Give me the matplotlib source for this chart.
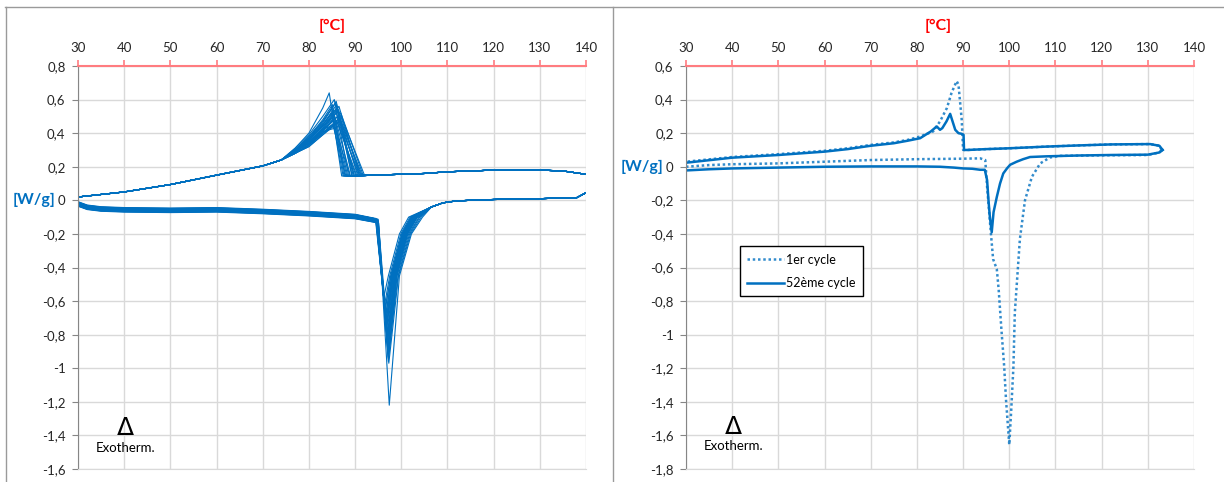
import matplotlib
matplotlib.use("Agg")
import matplotlib.pyplot as plt
from matplotlib.lines import Line2D
from matplotlib.ticker import FuncFormatter, MultipleLocator
from matplotlib.transforms import blended_transform_factory

plt.rcParams['font.family'] = ['Lato', 'DejaVu Sans']

BLUE = '#0070C0'
RED_AXIS = '#FF7C80'

# ---------------- left panel: 52 cycles (shown as a family of curves) ----------------
# heating branch (endothermic melting peak)
heat_base_T = [30, 32, 35, 40, 50, 60, 70, 80, 90]
heat_base_V = [-0.02, -0.04, -0.05, -0.055, -0.058, -0.055, -0.065, -0.078, -0.095]
heat_shift = [0.010, 0.006, 0.002, -0.002, -0.006, -0.010, -0.013, 0.008, 0.004, 0.000,
              -0.004, -0.008, -0.012, 0.012, 0.003, -0.005, -0.011, 0.007, -0.015, 0.001,
              0.009, -0.003, -0.009, 0.005, -0.001, -0.007]
melt_onset_T = [94.4, 94.5, 94.5, 94.6, 94.6, 94.7, 94.7, 94.8, 94.8, 94.8,
                94.9, 94.9, 95.0, 94.5, 94.7, 94.8, 94.9, 95.0, 95.1, 95.0,
                94.6, 94.7, 94.9, 94.6, 94.8, 95.0]
melt_peak_T = [96.2, 96.4, 96.5, 96.6, 96.7, 96.8, 96.9, 97.0, 97.0, 97.1,
               97.1, 97.2, 97.2, 96.6, 96.9, 97.0, 97.1, 97.3, 97.4, 97.3,
               96.5, 96.8, 97.0, 96.7, 97.0, 97.2]
melt_peak_V = [-0.58, -0.62, -0.66, -0.70, -0.73, -0.76, -0.79, -0.82, -0.85, -0.88,
               -0.91, -0.94, -0.96, -0.68, -0.75, -0.80, -0.87, -0.90, -1.22, -0.97,
               -0.64, -0.74, -0.84, -0.71, -0.83, -0.93]
melt_r45_T = [97.2, 97.5, 97.7, 97.9, 98.1, 98.2, 98.4, 98.5, 98.6, 98.7,
              98.8, 98.9, 99.0, 98.0, 98.3, 98.6, 98.9, 99.3, 99.6, 99.4,
              97.8, 98.2, 98.7, 98.1, 98.8, 99.1]
melt_r20_T = [99.6, 99.9, 100.1, 100.3, 100.5, 100.6, 100.8, 100.9, 101.0, 101.1,
              101.2, 101.3, 101.4, 100.4, 100.7, 101.0, 101.3, 101.8, 102.2, 102.0,
              100.2, 100.6, 101.1, 100.5, 101.2, 101.6]
melt_r10_T = [101.6, 101.9, 102.1, 102.3, 102.5, 102.6, 102.8, 102.9, 103.0, 103.1,
              103.2, 103.4, 103.5, 102.4, 102.7, 103.0, 103.4, 104.0, 104.6, 104.3,
              102.2, 102.6, 103.1, 102.5, 103.3, 103.8]
heat_tail_T = [106.5, 109, 112, 120, 130, 138, 140, 142]
heat_tail_V = [-0.04, -0.015, -0.003, 0.005, 0.01, 0.016, 0.045, 0.09]

# cooling branch (exothermic crystallisation peak)
cool_base_T = [30, 40, 50, 60, 70, 74]
cool_base_V = [0.02, 0.05, 0.094, 0.15, 0.205, 0.24]
cool_v77 = [0.31, 0.30, 0.30, 0.29, 0.31, 0.29, 0.30, 0.30, 0.28, 0.29,
            0.30, 0.28, 0.29, 0.28, 0.29, 0.30, 0.28, 0.29, 0.28, 0.28,
            0.30, 0.29, 0.29, 0.28, 0.29, 0.29]
cool_v80 = [0.40, 0.37, 0.38, 0.35, 0.39, 0.34, 0.37, 0.36, 0.33, 0.35,
            0.36, 0.33, 0.34, 0.33, 0.34, 0.37, 0.32, 0.35, 0.33, 0.32,
            0.38, 0.36, 0.36, 0.33, 0.35, 0.34]
cool_v83 = [0.55, 0.45, 0.48, 0.42, 0.50, 0.41, 0.47, 0.45, 0.40, 0.43,
            0.44, 0.40, 0.41, 0.40, 0.42, 0.46, 0.39, 0.42, 0.41, 0.39,
            0.47, 0.44, 0.45, 0.40, 0.43, 0.42]
cryst_peak_T = [84.4, 84.9, 85.1, 85.3, 85.5, 85.6, 85.8, 86.0, 86.1, 86.3,
                86.5, 86.7, 86.9, 87.0, 85.2, 85.9, 86.2, 86.4, 85.7, 86.8,
                85.0, 85.4, 86.0, 86.6, 85.8, 86.3]
cryst_peak_V = [0.64, 0.52, 0.57, 0.48, 0.60, 0.50, 0.58, 0.55, 0.47, 0.53,
                0.56, 0.49, 0.52, 0.50, 0.45, 0.59, 0.46, 0.54, 0.43, 0.48,
                0.55, 0.51, 0.57, 0.47, 0.53, 0.50]
cryst_end_T = [87.1, 87.4, 87.8, 88.2, 88.6, 89.0, 89.4, 89.8, 90.2, 90.6,
               91.0, 91.4, 91.8, 92.1, 88.0, 89.6, 90.4, 91.2, 88.9, 91.6,
               87.6, 88.4, 89.3, 91.0, 89.9, 90.8]
cool_tail_T = [93, 100, 105, 110, 120, 130, 135, 140, 142]
cool_tail_V = [0.15, 0.155, 0.16, 0.17, 0.18, 0.18, 0.175, 0.155, 0.13]

# ---------------- right panel: 1st and 52nd cycle ----------------
c1_heat_T = [30, 35, 40, 50, 60, 70, 80, 90, 93.7, 94.8, 95.2, 96.0, 96.5, 97.3, 97.7,
             98.3, 98.9, 99.3, 99.8, 100.0, 100.4, 100.9, 101.2, 101.8, 102.3, 103.4,
             104.9, 106.7, 108.8, 111, 120, 130, 132.5, 133]
c1_heat_V = [0.0, 0.01, 0.015, 0.02, 0.03, 0.04, 0.045, 0.048, 0.05, 0.04, -0.12, -0.39,
             -0.55, -0.61, -0.73, -0.97, -1.19, -1.39, -1.58, -1.655, -1.46, -1.19, -0.87,
             -0.63, -0.43, -0.2, -0.06, 0.02, 0.055, 0.065, 0.068, 0.07, 0.085, 0.10]
c1_cool_T = [133, 132.5, 130.5, 122, 115, 108, 100, 95, 91, 90.0, 89.7, 89.0, 88.6, 87.5,
             86.5, 85, 83.5, 80.7, 78, 75, 70, 65, 60, 50, 40, 30]
c1_cool_V = [0.10, 0.125, 0.135, 0.133, 0.127, 0.12, 0.11, 0.105, 0.10, 0.10, 0.28, 0.49,
             0.51, 0.44, 0.35, 0.27, 0.21, 0.18, 0.16, 0.145, 0.13, 0.11, 0.095, 0.075,
             0.058, 0.03]

c52_heat_T = [30, 35, 40, 50, 60, 70, 80, 85, 88, 90, 92, 93.7, 94.7, 95.2, 95.5, 95.8,
              96.2, 96.6, 97.3, 98.0, 98.7, 99.5, 100.2, 101.6, 103, 104.5, 108, 115, 122,
              130, 132.5, 133.2]
c52_heat_V = [-0.022, -0.015, -0.01, -0.005, 0.0, 0.002, 0.002, 0.0, -0.005, -0.01, -0.012,
              -0.018, -0.018, -0.08, -0.2, -0.3, -0.39, -0.27, -0.18, -0.1, -0.04, -0.01,
              0.012, 0.03, 0.045, 0.058, 0.062, 0.067, 0.07, 0.072, 0.085, 0.10]
c52_cool_T = [133.2, 132.5, 130.5, 122, 115, 108, 100, 95, 91, 90.2, 90.1, 89.7, 89, 88.3,
              87.2, 86.4, 85.5, 85.0, 84.3, 83.0, 80.7, 78, 75, 70, 65, 60, 50, 40, 30]
c52_cool_V = [0.10, 0.125, 0.135, 0.133, 0.127, 0.12, 0.11, 0.105, 0.10, 0.10, 0.19, 0.196,
              0.20, 0.22, 0.315, 0.27, 0.23, 0.22, 0.24, 0.21, 0.17, 0.155, 0.14, 0.125,
              0.105, 0.09, 0.07, 0.054, 0.024]


def comma_fmt(v, pos):
    v = round(v, 1)
    if abs(v) < 1e-9:
        return '0'
    return f"{v:g}".replace('.', ',')


def style_axes(ax, ymin, ymax):
    ax.set_xlim(30, 140)
    ax.set_ylim(ymin, ymax)
    ax.xaxis.set_major_locator(MultipleLocator(10))
    ax.yaxis.set_major_locator(MultipleLocator(0.2))
    ax.yaxis.set_major_formatter(FuncFormatter(comma_fmt))
    ax.xaxis.tick_top()
    ax.grid(True, color='#d9d9d9', lw=1)
    ax.set_axisbelow(True)
    ax.spines['top'].set_color(RED_AXIS)
    ax.spines['top'].set_linewidth(1.5)
    ax.spines['left'].set_color('#868686')
    ax.spines['bottom'].set_color('#d9d9d9')
    ax.spines['right'].set_visible(False)
    ax.tick_params(axis='x', which='both', top=True, bottom=False, labeltop=True,
                   labelbottom=False, color=RED_AXIS, length=4, width=1.2, pad=5,
                   labelsize=9.5, labelcolor='#262626')
    ax.tick_params(axis='y', color='#868686', length=4, pad=5, labelsize=9.5,
                   labelcolor='#262626')


fig = plt.figure(figsize=(12.24, 4.82), dpi=100)
ax1 = fig.add_axes([78 / 1224, 1 - 469 / 482, 508 / 1224, 403 / 482])
ax2 = fig.add_axes([686 / 1224, 1 - 469 / 482, 508 / 1224, 403 / 482])

# left panel curves
for i in range(len(melt_peak_T)):
    hT = heat_base_T + [melt_onset_T[i], melt_peak_T[i], melt_r45_T[i], melt_r20_T[i],
                        melt_r10_T[i]] + heat_tail_T
    hV = [v + heat_shift[i] for v in heat_base_V] + \
         [-0.12 + heat_shift[i], melt_peak_V[i], -0.45, -0.2, -0.1] + heat_tail_V
    ax1.plot(hT, hV, color=BLUE, lw=0.8)
    cT = cool_base_T + [77, 80, 83, cryst_peak_T[i], cryst_end_T[i]] + cool_tail_T
    cV = cool_base_V + [cool_v77[i], cool_v80[i], cool_v83[i], cryst_peak_V[i], 0.145] + cool_tail_V
    ax1.plot(cT, cV, color=BLUE, lw=0.8)

style_axes(ax1, -1.6, 0.8)

# right panel curves
l1, = ax2.plot(c1_heat_T, c1_heat_V, color=BLUE, lw=1.8, ls=(0, (1, 1.1)), alpha=0.8)
ax2.plot(c1_cool_T, c1_cool_V, color=BLUE, lw=1.8, ls=(0, (1, 1.1)), alpha=0.8)
l52, = ax2.plot(c52_heat_T, c52_heat_V, color=BLUE, lw=1.8)
ax2.plot(c52_cool_T, c52_cool_V, color=BLUE, lw=1.8)

style_axes(ax2, -1.8, 0.6)

leg = ax2.legend([l1, l52], ['1er cycle', '52ème cycle'], loc='upper left',
                 bbox_to_anchor=(0.106, 0.553), borderaxespad=0, fontsize=9,
                 handlelength=2.9, handletextpad=0.2, labelspacing=0.9,
                 fancybox=False, framealpha=1, edgecolor='black', borderpad=0.6)
leg.get_frame().set_linewidth(1.0)

# axis titles
for ax, xc in [(ax1, 34), (ax2, 642)]:
    tr = blended_transform_factory(fig.transFigure, ax.transData)
    ax.text(xc / 1224, 0.0, '[W/g]', transform=tr, ha='center', va='center',
            color=BLUE, fontsize=11.5, fontweight='bold')
fig.text(332 / 1224, 1 - 26 / 482, '[°C]', ha='center', va='center', color='#FF0000',
         fontsize=11.5, fontweight='bold')
fig.text(938 / 1224, 1 - 26 / 482, '[°C]', ha='center', va='center', color='#FF0000',
         fontsize=11.5, fontweight='bold')

# exotherm markers
ax1.text(40.2, -1.355, 'Δ', ha='center', va='center', fontsize=18, family='DejaVu Sans')
ax1.text(40.2, -1.473, 'Exotherm.', ha='center', va='center', fontsize=9.5)
ax2.text(40.3, -1.55, 'Δ', ha='center', va='center', fontsize=18, family='DejaVu Sans')
ax2.text(40.3, -1.665, 'Exotherm.', ha='center', va='center', fontsize=9.5)

# chart frames
frame_c = '#9a9a9a'
fig.add_artist(Line2D([5.5 / 1224, 5.5 / 1224], [0, 1 - 7 / 482], color=frame_c, lw=1))
fig.add_artist(Line2D([5 / 1224, 1], [1 - 7 / 482, 1 - 7 / 482], color=frame_c, lw=1))
fig.add_artist(Line2D([613 / 1224, 613 / 1224], [0, 1 - 7 / 482], color=frame_c, lw=1))

fig.savefig('out.png', dpi=100)
